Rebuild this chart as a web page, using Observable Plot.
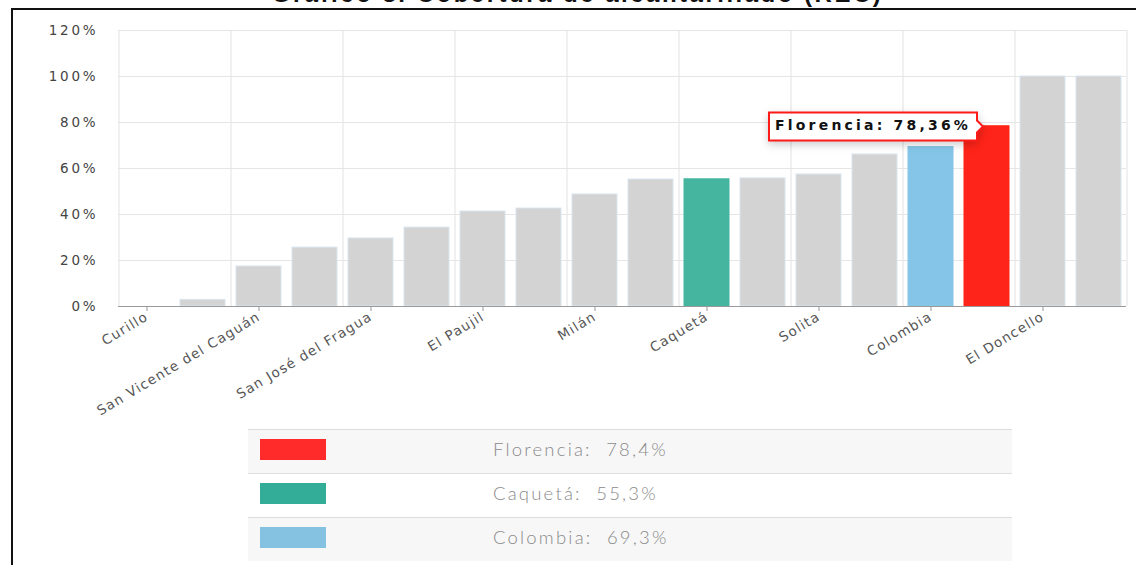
<!DOCTYPE html>
<html>
<head>
<meta charset="utf-8">
<script src="https://cdn.jsdelivr.net/npm/d3@7"></script>
<script src="https://cdn.jsdelivr.net/npm/@observablehq/plot@0.6"></script>
<style>
  html, body { margin: 0; padding: 0; background: #fff; }
  body { width: 1136px; height: 565px; position: relative; overflow: hidden; }
  #title { position: absolute; top: -20px; left: 0; width: 1155px; text-align: center; line-height: 24px;
    font: bold 24px "Liberation Sans", Arial, sans-serif; letter-spacing: 2.5px; color: #111; white-space: nowrap; }
  #frame { position: absolute; left: 11px; top: 8px; width: 1140px; height: 600px;
    border-top: 2px solid #111; border-left: 2px solid #111; }
  #chart { position: absolute; left: 0; top: 0; }
  #chart g[aria-label="y-axis tick label"] text { letter-spacing: 2.8px; }
  #chart g[aria-label="x-axis tick label"] text { letter-spacing: 1.2px; }
  #chart g[aria-label="tip"] text { letter-spacing: 3.2px; }
  #legend { position: absolute; left: 248px; top: 429px; width: 764px; border-collapse: collapse; }
  #legend td { height: 43px; border-top: 1px solid #dedede; padding: 0; }
  #legend tr:nth-child(odd) td { background: #f7f7f7; }
  #legend .sw { width: 245px; }
  #legend .sw div { width: 66px; height: 21px; margin-left: 12px; margin-top: -4px; }
  #legend .tx { font: 300 18.5px "Lato", sans-serif; color: #8a8a8a; letter-spacing: 2.2px; white-space: pre; }
  #legend .tx span { display: inline-block; position: relative; top: -3px; }
</style>
</head>
<body>
<div id="title">Gráfico 8. Cobertura de alcantarillado (REC)</div>
<div id="frame"></div>
<div id="chart"></div>
<table id="legend"></table>
<script>
// Categories in display order
const names = [
  "Curillo", "Solano", "San Vicente del Caguán", "Cartagena del Chairá",
  "San José del Fragua", "Valparaíso", "El Paujil", "La Montañita",
  "Milán", "Belén de los Andaquíes", "Caquetá", "Albania",
  "Solita", "Morelia", "Colombia", "Florencia", "El Doncello", "Puerto Rico"
];
// Coverage values (%)
const values = [
  0, 2.9, 17.4, 25.6,
  29.6, 34.3, 41.3, 42.6,
  48.7, 55.2, 55.3, 55.7,
  57.4, 66.1, 69.3, 78.36, 100, 100
];
// Axis tick labels shown
const xTickLabels = ["Curillo", "San Vicente del Caguán", "San José del Fragua", "El Paujil",
  "Milán", "Caquetá", "Solita", "Colombia", "El Doncello"];
const yTicks = [0, 20, 40, 60, 80, 100, 120];
// Highlighted series
const highlightNames = ["Florencia", "Caquetá", "Colombia"];
const highlightBarColors = ["#ff2419", "#45b59f", "#85c6e8"];
const legendColors = ["#ff2b2b", "#33ad98", "#85c1e0"];
const legendValues = ["78,4%", "55,3%", "69,3%"];
const tooltipName = "Florencia";

const data = names.map((n, i) => ({name: n, value: values[i]}));
const colorOf = n => {
  const k = highlightNames.indexOf(n);
  return k >= 0 ? highlightBarColors[k] : "#d3d3d3";
};

const W = 1136, H = 425, mL = 118, mR = 10, mT = 30, mB = 119;
const step = (W - mL - mR) / names.length;
const gridNames = names.filter((d, i) => i % 2 === 0);
const fmtComma = v => String(v).replace(".", ",");

const plot = Plot.plot({
  width: W, height: H,
  marginLeft: mL, marginRight: mR, marginTop: mT, marginBottom: mB,
  style: {fontFamily: "DejaVu Sans, sans-serif", fontSize: "12px", color: "#555", background: "transparent"},
  x: {domain: names, paddingInner: 0.2, paddingOuter: 0.1, label: null},
  y: {domain: [0, 120], label: null},
  marks: [
    Plot.ruleY(yTicks, {stroke: "#e6e6e6", strokeWidth: 1}),
    Plot.ruleX(gridNames, {x: d => d, dx: -step / 2, stroke: "#e2e2e2", strokeWidth: 1}),
    Plot.ruleX([names[names.length - 1]], {x: d => d, dx: step / 2, stroke: "#e2e2e2", strokeWidth: 1}),
    Plot.barY(data, {x: "name", y: "value", fill: d => colorOf(d.name), stroke: d => colorOf(d.name) === "#d3d3d3" ? "#d9e6ef" : colorOf(d.name), strokeWidth: 1}),
    Plot.ruleY([0], {stroke: "#9a9a9a", strokeWidth: 1}),
    Plot.axisY({ticks: yTicks, tickFormat: d => d + "%", tickSize: 0, tickPadding: 20, fill: "#444", fontSize: 13.5}),
    Plot.axisX({ticks: xTickLabels, tickRotate: -31, tickSize: 5, tickPadding: 4, stroke: "#999", fill: "#555", fontSize: 13.5}),
    Plot.tip(data.filter(d => d.name === tooltipName), {
      x: "name", y: "value", dx: -4, anchor: "right",
      title: d => `${d.name}: ${fmtComma(d.value)}%`,
      fill: "#fff", stroke: "#ff1a1a", strokeWidth: 2,
      fontFamily: "DejaVu Sans, sans-serif", fontSize: 14, fontWeight: "bold",
      textPadding: 6, pointerSize: 12
    })
  ]
});
document.getElementById("chart").appendChild(plot);
plot.querySelectorAll('g[aria-label="tip"] text').forEach(t => t.setAttribute("fill", "#111"));

const table = document.getElementById("legend");
highlightNames.forEach((n, i) => {
  const tr = document.createElement("tr");
  const td1 = document.createElement("td");
  td1.className = "sw";
  const sw = document.createElement("div");
  sw.style.background = legendColors[i];
  td1.appendChild(sw);
  const td2 = document.createElement("td");
  td2.className = "tx";
  const span = document.createElement("span");
  span.textContent = `${n}:  ${legendValues[i]}`;
  td2.appendChild(span);
  tr.appendChild(td1); tr.appendChild(td2);
  table.appendChild(tr);
});
</script>
</body>
</html>
